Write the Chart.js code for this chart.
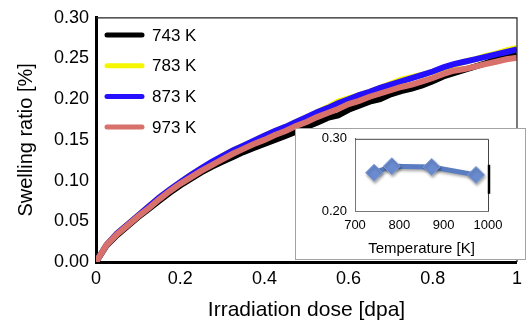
<!DOCTYPE html>
<html>
<head>
<meta charset="utf-8">
<script src="https://cdn.jsdelivr.net/npm/chart.js@4"></script>
<style>
  body { margin: 0; background: #fff; }
  #wrap { position: relative; width: 528px; height: 327px; }
  #inset {
    position: absolute; left: 295px; top: 128px;
    width: 231px; height: 132px;
    box-sizing: border-box; border: 1px solid #a3a3a3; background: #fff;
  }
  #inset canvas { display: block; }
</style>
</head>
<body>
<div id="wrap">
  <canvas id="mainChart" width="528" height="327"></canvas>
  <div id="inset"><canvas id="insetChart" width="229" height="130"></canvas></div>
</div>
<script>
// ==============================
// DATA
// ==============================
const dose = [0, 0.025, 0.05, 0.075, 0.1, 0.125, 0.15, 0.175, 0.2, 0.225,
  0.25, 0.275, 0.3, 0.325, 0.35, 0.375, 0.4, 0.425, 0.45, 0.475,
  0.5, 0.525, 0.55, 0.575, 0.6, 0.625, 0.65, 0.675, 0.7, 0.725,
  0.75, 0.775, 0.8, 0.825, 0.85, 0.875, 0.9, 0.925, 0.95, 0.975, 1.0];

const swell743 = [0, 0.020, 0.033, 0.044, 0.055, 0.065, 0.075, 0.085, 0.094, 0.102,
  0.110, 0.117, 0.123, 0.129, 0.135, 0.140, 0.145, 0.150, 0.155, 0.160,
  0.166, 0.171, 0.177, 0.180, 0.187, 0.192, 0.197, 0.200, 0.206, 0.210,
  0.213, 0.217, 0.222, 0.228, 0.232, 0.236, 0.240, 0.244, 0.249, 0.251, 0.255];

const swell783 = [0, 0.021, 0.035, 0.046, 0.057, 0.068, 0.079, 0.089, 0.098, 0.107,
  0.115, 0.122, 0.130, 0.137, 0.143, 0.149, 0.155, 0.161, 0.166, 0.172,
  0.178, 0.184, 0.190, 0.197, 0.201, 0.205, 0.209, 0.214, 0.219, 0.224,
  0.227, 0.230, 0.234, 0.238, 0.242, 0.246, 0.249, 0.253, 0.256, 0.260, 0.263];

const swell873 = [0, 0.021, 0.035, 0.046, 0.057, 0.068, 0.079, 0.089, 0.098, 0.107,
  0.115, 0.123, 0.130, 0.137, 0.143, 0.149, 0.155, 0.161, 0.166, 0.172,
  0.178, 0.184, 0.189, 0.195, 0.200, 0.205, 0.209, 0.214, 0.218, 0.222,
  0.226, 0.230, 0.234, 0.239, 0.243, 0.246, 0.249, 0.252, 0.255, 0.258, 0.261];

const swell973 = [0, 0.021, 0.034, 0.045, 0.056, 0.066, 0.077, 0.087, 0.096, 0.104,
  0.112, 0.119, 0.126, 0.133, 0.139, 0.145, 0.150, 0.156, 0.161, 0.167,
  0.172, 0.178, 0.183, 0.188, 0.194, 0.198, 0.203, 0.207, 0.211, 0.215,
  0.218, 0.222, 0.226, 0.231, 0.235, 0.237, 0.240, 0.243, 0.246, 0.249, 0.251];

const seriesLabels = ['743 K', '783 K', '873 K', '973 K'];
const seriesColors = ['#000000', '#f6f600', '#2410ff', '#d8716b'];

const xTicks = [0, 0.2, 0.4, 0.6, 0.8, 1];
const yTicks = [0, 0.05, 0.10, 0.15, 0.20, 0.25, 0.30];

// inset: swelling at 1 dpa vs temperature
const insetTemps = [743, 783, 873, 973];
const insetSwell = [0.253, 0.262, 0.261, 0.250];
const insetXTicks = [700, 800, 900, 1000];
const insetYTicks = [0.20, 0.30];

// ==============================
// HELPERS
// ==============================
const FONT = '"Liberation Sans", Arial, Helvetica, sans-serif';

function toPoints(xs, ys) {
  return xs.map((x, i) => ({ x: x, y: ys[i] }));
}

// top + right frame of the main plot area
const framePlugin = {
  id: 'frame',
  afterDraw(chart) {
    const { ctx, chartArea: a } = chart;
    ctx.save();
    ctx.strokeStyle = '#222';
    ctx.lineWidth = 1.2;
    ctx.beginPath();
    ctx.moveTo(a.left, a.top);
    ctx.lineTo(a.right, a.top);
    ctx.lineTo(a.right, a.bottom);
    ctx.stroke();
    ctx.restore();
  }
};

// legend drawn inside the plot area, top-left
const insideLegend = {
  id: 'insideLegend',
  afterDraw(chart) {
    const ctx = chart.ctx;
    ctx.save();
    ctx.lineCap = 'round';
    ctx.font = '17px ' + FONT;
    ctx.textBaseline = 'middle';
    seriesLabels.forEach((lab, i) => {
      const y = 35 + i * 30.7;
      ctx.strokeStyle = seriesColors[i];
      ctx.lineWidth = 5;
      ctx.beginPath();
      ctx.moveTo(107, y);
      ctx.lineTo(142, y);
      ctx.stroke();
      ctx.fillStyle = '#000';
      ctx.fillText(lab, 152, y + 1);
    });
    ctx.restore();
  }
};

// ==============================
// MAIN CHART
// ==============================
const drawOrder = [3, 2, 1, 0]; // red on top, black at the bottom
const swellSeries = [swell743, swell783, swell873, swell973];

new Chart(document.getElementById('mainChart'), {
  type: 'line',
  data: {
    datasets: swellSeries.map((s, i) => ({
      label: seriesLabels[i],
      data: toPoints(dose, s),
      borderColor: seriesColors[i],
      borderWidth: 6,
      pointRadius: 0,
      tension: 0,
      order: drawOrder[i]
    }))
  },
  options: {
    responsive: false,
    animation: false,
    layout: { padding: { left: 0, top: 12, right: 5, bottom: 0 } },
    plugins: { legend: { display: false }, tooltip: { enabled: false } },
    scales: {
      x: {
        type: 'linear',
        min: 0,
        max: 1,
        afterBuildTicks: (s) => { s.ticks = xTicks.map(v => ({ value: v })); },
        afterFit: (s) => { s.height = 65; },
        grid: { display: false, drawTicks: false },
        border: { display: true, color: '#000', width: 3 },
        ticks: {
          padding: 6,
          color: '#000',
          font: { family: FONT, size: 18 },
          callback: (v) => (v === 0 || v === 1) ? String(v) : v.toFixed(1)
        },
        title: {
          display: true,
          text: 'Irradiation dose [dpa]',
          color: '#000',
          font: { family: FONT, size: 21 },
          padding: { top: 0, bottom: 4 }
        }
      },
      y: {
        type: 'linear',
        min: 0,
        max: 0.3,
        afterBuildTicks: (s) => { s.ticks = yTicks.map(v => ({ value: v })); },
        afterFit: (s) => { s.width = 96; },
        grid: { display: false, drawTicks: false },
        border: { display: true, color: '#000', width: 3 },
        ticks: {
          padding: 7,
          color: '#000',
          font: { family: FONT, size: 18 },
          callback: (v) => v.toFixed(2)
        },
        title: {
          display: true,
          text: 'Swelling ratio [%]',
          color: '#000',
          font: { family: FONT, size: 20 },
          padding: { top: 14, bottom: 0 }
        }
      }
    }
  },
  plugins: [framePlugin, insideLegend]
});

// ==============================
// INSET CHART
// ==============================
const insetFrame = {
  id: 'insetFrame',
  beforeDatasetsDraw(chart) {
    const ctx = chart.ctx;
    ctx.save();
    ctx.shadowColor = 'rgba(0,0,0,0.35)';
    ctx.shadowBlur = 3;
    ctx.shadowOffsetX = 1;
    ctx.shadowOffsetY = 2;
  },
  afterDatasetsDraw(chart) {
    chart.ctx.restore();
  },
  afterDraw(chart) {
    const { ctx, chartArea: a } = chart;
    ctx.save();
    ctx.strokeStyle = '#444';
    ctx.lineWidth = 1;
    ctx.beginPath();
    ctx.moveTo(a.left, a.top + 0.5);
    ctx.lineTo(a.right + 0.5, a.top + 0.5);
    ctx.lineTo(a.right + 0.5, a.bottom);
    ctx.stroke();
    // dark mark on the right edge, as in the original figure
    ctx.strokeStyle = '#000';
    ctx.lineWidth = 2.5;
    ctx.beginPath();
    ctx.moveTo(a.right + 1, a.top + 26);
    ctx.lineTo(a.right + 1, a.top + 55);
    ctx.stroke();
    ctx.restore();
  }
};

new Chart(document.getElementById('insetChart'), {
  type: 'line',
  data: {
    datasets: [{
      data: toPoints(insetTemps, insetSwell),
      borderColor: '#5a7cc1',
      borderWidth: 5,
      pointStyle: 'rectRot',
      pointRadius: 8.5,
      pointBackgroundColor: '#6a8bcf',
      pointBorderColor: '#7f9bd6',
      pointBorderWidth: 1,
      tension: 0
    }]
  },
  options: {
    responsive: false,
    animation: false,
    layout: { padding: { left: 0, top: 8, right: 37, bottom: 0 } },
    plugins: { legend: { display: false }, tooltip: { enabled: false } },
    scales: {
      x: {
        type: 'linear',
        min: 700,
        max: 1000,
        afterBuildTicks: (s) => { s.ticks = insetXTicks.map(v => ({ value: v })); },
        ticks: { padding: 2, color: '#000', font: { family: FONT, size: 13 },
          callback: (v) => String(v) },
        afterFit: (s) => { s.height = 48; },
        grid: { display: false, drawTicks: true, tickLength: 5 },
        border: { display: true, color: '#777', width: 1 },
        title: {
          display: true,
          text: 'Temperature [K]',
          color: '#000',
          font: { family: FONT, size: 15 },
          padding: { top: 0, bottom: 1 }
        }
      },
      y: {
        type: 'linear',
        min: 0.2,
        max: 0.3,
        afterBuildTicks: (s) => { s.ticks = insetYTicks.map(v => ({ value: v })); },
        ticks: { padding: 2, color: '#000', font: { family: FONT, size: 13 },
          callback: (v) => v.toFixed(2) },
        afterFit: (s) => { s.width = 59; },
        grid: { display: false, drawTicks: true, tickLength: 6 },
        border: { display: true, color: '#777', width: 1 }
      }
    }
  },
  plugins: [insetFrame]
});
</script>
</body>
</html>
